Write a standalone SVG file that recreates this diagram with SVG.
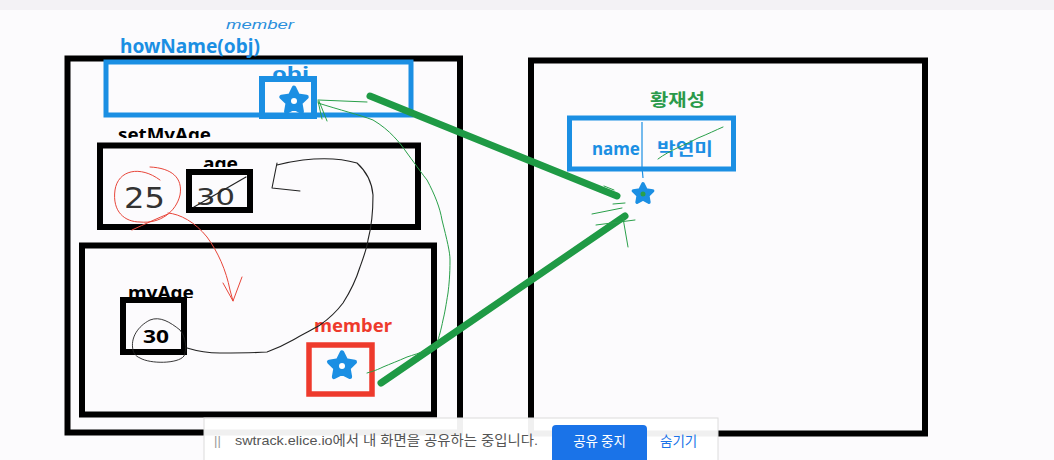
<svg xmlns="http://www.w3.org/2000/svg" width="1054" height="460" viewBox="0 0 1054 460">
<style>
.box{fill:none;stroke:#000;stroke-width:6}
.bbox{fill:none;stroke:#1b8fe3;stroke-width:5}
.lbl{font-family:"Noto Sans","Noto Sans CJK KR",sans-serif;font-weight:bold}
.blue{fill:#1b8fe3}
.hand{fill:none;stroke-linecap:round;stroke-linejoin:round}
.hw{font-family:"DejaVu Sans",sans-serif;font-weight:normal;fill:#333}
.gl{fill:none;stroke:#1f9a45;stroke-width:7;stroke-linecap:round}
.thin{fill:none;stroke:#2aa04a;stroke-width:1;stroke-linecap:round}
</style>
<defs>
<polygon id="star" points="0,-12 3.53,-4.85 11.41,-3.71 5.71,1.85 7.05,9.71 0,6 -7.05,9.71 -5.71,1.85 -11.41,-3.71 -3.53,-4.85" fill="#1b8fe3" stroke="#1b8fe3" stroke-width="4" stroke-linejoin="round"/>
<clipPath id="cSet"><rect x="100" y="110" width="150" height="28"/></clipPath>
<clipPath id="cAge"><rect x="190" y="140" width="60" height="27"/></clipPath>
<clipPath id="cMy"><rect x="110" y="270" width="100" height="28"/></clipPath>
<clipPath id="cObj"><rect x="260" y="55" width="60" height="22"/></clipPath>
</defs>
<rect x="0" y="0" width="1054" height="460" fill="#fcfbfd"/>
<rect x="0" y="0" width="1054" height="10" fill="#f3f2f5"/>

<g id="left-frame"><rect class="box" x="67.5" y="58.5" width="392.5" height="374"/></g>
<g id="right-frame"><rect class="box" x="531" y="60.5" width="394" height="373" stroke-width="5.5"/></g>

<g id="howName">
<text class="lbl blue" x="120" y="53" font-size="19" textLength="140" lengthAdjust="spacingAndGlyphs">howName(obj)</text>
<text x="226" y="29" font-family="Liberation Sans,sans-serif" font-size="13" font-style="italic" fill="#2a8fdc" textLength="68" lengthAdjust="spacingAndGlyphs">member</text>
<rect class="bbox" x="106" y="62" width="305" height="53"/>
</g>

<g id="obj">
<text class="lbl blue" x="272" y="80" font-size="17" clip-path="url(#cObj)" textLength="37" lengthAdjust="spacingAndGlyphs">obj</text>
<rect x="262" y="79" width="52" height="37" fill="none" stroke="#1b8fe3" stroke-width="6"/>
<use href="#star" transform="translate(294,101) scale(1.1)"/>
<circle cx="294" cy="101" r="3" fill="#fff"/>
</g>

<g id="setMyAge">
<text class="lbl" x="118" y="141" font-size="17" clip-path="url(#cSet)" textLength="93" lengthAdjust="spacingAndGlyphs">setMyAge</text>
<rect class="box" x="100" y="145.5" width="318" height="81.5"/>
</g>

<g id="age">
<text class="lbl" x="203" y="170" font-size="17" clip-path="url(#cAge)" textLength="35" lengthAdjust="spacingAndGlyphs">age</text>
<rect class="box" x="189" y="172" width="61" height="38"/>
<text class="hw" transform="translate(196,205) scale(1,1.25)" font-size="19" textLength="39" lengthAdjust="spacingAndGlyphs">30</text>
<path class="hand" d="M194,207 L246,177" stroke="#222" stroke-width="1.2"/>
</g>

<g id="val25">
<text class="hw" transform="translate(124,208) scale(1,1.45)" font-size="20" textLength="41" lengthAdjust="spacingAndGlyphs">25</text>
<path class="hand" d="M160,180 C140,165 118,170 115,190 C112,212 125,222 140,222 C160,224 176,212 180,195 C183,178 172,168 150,167" stroke="#e8463a" stroke-width="1"/>
<path class="hand" d="M132,230 C145,224 158,218 168,214" stroke="#e8463a" stroke-width="1"/>
</g>

<g id="myAgeFrame">
<rect class="box" x="82" y="245.5" width="352" height="169"/>
</g>

<g id="myAge">
<text class="lbl" x="128" y="299" font-size="17" clip-path="url(#cMy)" textLength="66" lengthAdjust="spacingAndGlyphs">myAge</text>
<rect class="box" x="123" y="300" width="61" height="52"/>
<text class="lbl" x="143" y="343" font-size="17" textLength="26" lengthAdjust="spacingAndGlyphs">30</text>
<path class="hand" d="M133,350 C130,338 138,326 150,320 C160,316 170,322 180,330 C186,338 187,348 184,356 C178,364 150,364 140,358 C135,356 133,352 133,350" stroke="#222" stroke-width="0.9"/>
</g>

<g id="member">
<text class="lbl" x="314" y="332" font-size="17" fill="#ee3a2c" textLength="78" lengthAdjust="spacingAndGlyphs">member</text>
<rect x="309" y="345" width="63" height="49" fill="none" stroke="#ee3a2c" stroke-width="5.5"/>
<use href="#star" transform="translate(342,366) scale(1.12)"/>
<circle cx="342" cy="366" r="3" fill="#fff"/>
</g>

<g id="hwangjaeseong">
<text class="lbl" x="650" y="106" font-size="17" fill="#2a9a4a" textLength="55" lengthAdjust="spacingAndGlyphs">황재성</text>
<rect class="bbox" x="569.5" y="118" width="164" height="51"/>
<path d="M642,122 L642,167 L643,178" fill="none" stroke="#1b8fe3" stroke-width="1.2"/>
<text class="lbl blue" x="592" y="155" font-size="17" textLength="48" lengthAdjust="spacingAndGlyphs">name</text>
<text class="lbl blue" x="657" y="155" font-size="17" textLength="56" lengthAdjust="spacingAndGlyphs">박연미</text>
<path class="hand" d="M658,159 C670,150 685,145 698,138 C708,134 716,130 723,127" stroke="#2aa04a" stroke-width="1"/>
<use href="#star" transform="translate(643,194) scale(0.85)"/>
<circle cx="643" cy="194" r="2.5" fill="#2aa04a"/>
</g>

<g id="connectors">
<path class="gl" d="M370,96 L617,196"/>
<path class="gl" d="M381,383 L625,216"/>
<path class="thin" d="M592,214 L622,208 M596,225 L635,220 M623,218 L628,247 M604,186 L614,190 M613,204 L625,203"/>
<path class="thin" d="M318,100 L367,102 M318,101 L322,119 M319,101 L327,121 M318,103 C340,110 360,115 373,120 C390,130 400,143 407,153 C418,168 423,175 427,180 C435,195 440,208 442,220 C447,240 450,252 450,260 C450,275 449,285 448,293 C446,305 445,312 443,320 C441,330 439,337 437,343 C434,347 430,349 427,350 C420,353 413,355 407,357 C398,361 390,364 383,367 C375,371 370,372 367,373"/>
<path class="hand" d="M187,348 C200,352 212,353 220,353 C240,353 255,353 267,352 C278,348 286,344 293,340 C303,334 312,330 320,325 C330,318 337,311 343,303 C350,292 356,280 360,267 C364,256 367,248 368,240 C372,225 373,210 373,195 C372,183 367,172 357,163 C340,158 320,158 303,160 C295,161 285,163 277,165 M277,163 L272,188 L300,191" stroke="#222" stroke-width="1.1"/>
<path class="hand" d="M168,213 C180,214 195,222 207,237 C218,252 226,270 230,290 L233,301 M223,283 L233,301 L242,277" stroke="#e8463a" stroke-width="1"/>
</g>

<g id="share-bar">
<rect x="204" y="418" width="514" height="44" fill="#ffffff" fill-opacity="0.94" stroke="#dcdcdc" stroke-width="1"/>
<text x="214" y="445" font-family="Liberation Sans,sans-serif" font-size="13" fill="#9a9a9a">||</text>
<text x="235" y="445" font-family="Liberation Sans,'Noto Sans CJK KR',sans-serif" font-size="13.5" fill="#555" textLength="303" lengthAdjust="spacingAndGlyphs">swtrack.elice.io에서 내 화면을 공유하는 중입니다.</text>
<rect x="552" y="425" width="95" height="40" rx="4" fill="#1a73e8"/>
<text x="599.5" y="446" font-family="'Noto Sans CJK KR',sans-serif" font-size="13.5" fill="#fff" text-anchor="middle">공유 중지</text>
<text x="660" y="446" font-family="'Noto Sans CJK KR',sans-serif" font-size="13.5" fill="#1a73e8">숨기기</text>
</g>
</svg>
